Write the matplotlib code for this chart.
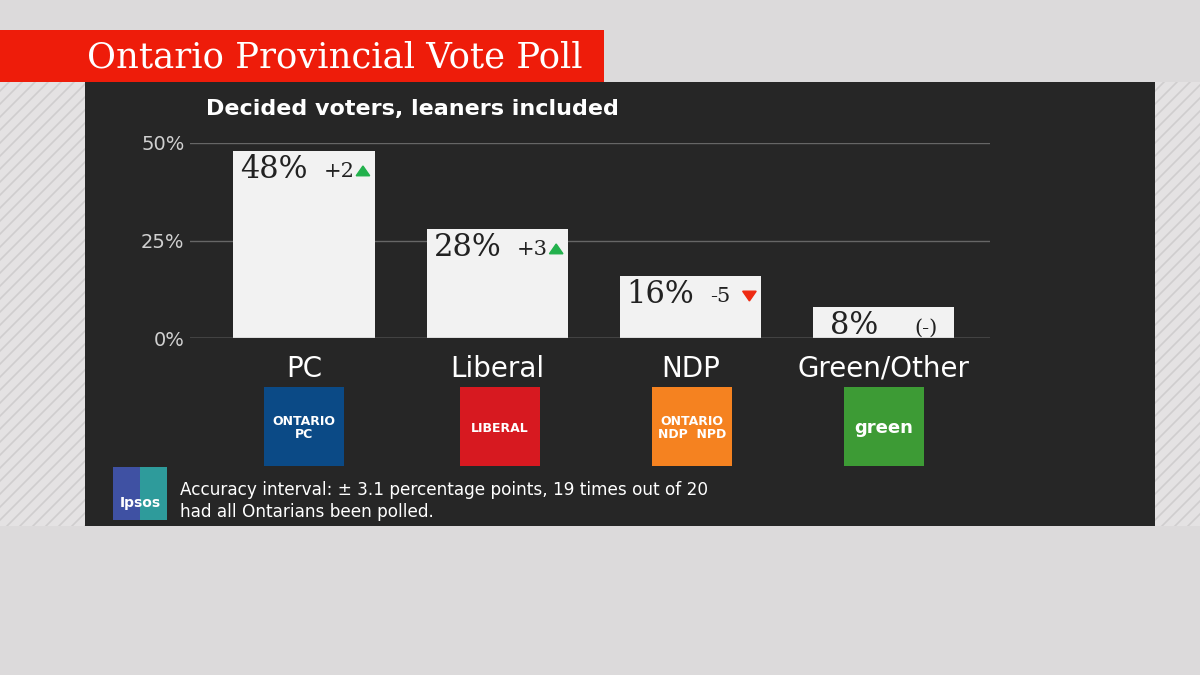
import matplotlib
matplotlib.use("Agg")
import matplotlib.pyplot as plt
from matplotlib.patches import Rectangle, Polygon

categories = ["PC", "Liberal", "NDP", "Green/Other"]
values = [48, 28, 16, 8]
changes = ["+2", "+3", "-5", "(-)"]
directions = ["up", "up", "down", None]
logo_colors = ["#0b4a86", "#d71920", "#f58220", "#3d9b35"]
logo_texts = ["ONTARIO\nPC", "LIBERAL", "ONTARIO\nNDP  NPD", "green"]
yticks = [0, 25, 50]

W, H = 1200, 675
fig = plt.figure(figsize=(12, 6.75), dpi=100)
fig.patch.set_facecolor("#dcdadb")

def box(x0, y0, x1, y1):
    return [x0 / W, 1 - y1 / H, (x1 - x0) / W, (y1 - y0) / H]

bg = fig.add_axes([0, 0, 1, 1])
bg.set_xlim(0, W); bg.set_ylim(H, 0); bg.axis("off")
for xa, xb in [(0, 85), (1155, 1200)]:
    clip = Rectangle((xa, 82), xb - xa, 444, transform=bg.transData)
    bg.add_patch(Rectangle((xa, 82), xb - xa, 444, facecolor="#e4e2e3", edgecolor="none"))
    for k in range(-500, 500, 13):
        ln, = bg.plot([xa + k, xa + k + 444], [526, 82], color="#cfcdce", lw=1.2)
        ln.set_clip_path(clip)
bg.add_patch(Rectangle((85, 82), 1070, 444, facecolor="#262626", edgecolor="none"))
bg.add_patch(Rectangle((0, 30), 604, 52, facecolor="#ee1c0a", edgecolor="none"))
bg.text(87, 57, "Ontario Provincial Vote Poll", color="white", fontsize=25.5,
        family="DejaVu Serif", va="center", ha="left")
bg.text(206, 109, "Decided voters, leaners included", color="white", fontsize=16,
        fontweight="bold", va="center", ha="left")

ax = fig.add_axes(box(190, 143, 990, 338))
ax.set_facecolor("none")
xs = list(range(len(categories)))
ax.bar(xs, values, width=0.73, color="#f2f2f2", zorder=3)
ax.set_xlim(-0.59, 3.55)
ax.set_ylim(0, 50)
ax.set_yticks(yticks)
ax.set_yticklabels([f"{t}%" for t in yticks], color="#d0d0d0", fontsize=14)
ax.yaxis.grid(True, color="#666666", lw=1)
ax.set_axisbelow(True)
ax.tick_params(axis="y", length=0, pad=4)
ax.set_xticks(xs)
ax.set_xticklabels(categories, color="white", fontsize=20)
ax.tick_params(axis="x", length=0, pad=12)
for s in ax.spines.values():
    s.set_visible(False)
ax.axhline(0, color="#888888", lw=1, zorder=4)

for i, (v, c, d) in enumerate(zip(values, changes, directions)):
    x1 = i - 0.33 if d else i - 0.28
    x2 = i + 0.10 if d else i + 0.16
    ax.text(x1, v - 4.8, f"{v}%", fontsize=22, family="DejaVu Serif",
            va="center", ha="left", zorder=5, color="#222222")
    ax.text(x2, v - 5.4, c, fontsize=15, family="DejaVu Serif",
            va="center", ha="left", zorder=5, color="#222222")
    if d:
        mx, my = i + 0.305, v - 5.2
        if d == "up":
            pts = [(mx - 0.035, my - 1.2), (mx + 0.035, my - 1.2), (mx, my + 1.3)]
            col = "#22b14c"
        else:
            pts = [(mx - 0.035, my + 1.2), (mx + 0.035, my + 1.2), (mx, my - 1.3)]
            col = "#ee2a12"
        ax.add_patch(Polygon(pts, closed=True, color=col, zorder=5))

centers = [304, 500, 692, 884]
for cx, col, t in zip(centers, logo_colors, logo_texts):
    bg.add_patch(Rectangle((cx - 40, 387), 80, 79, facecolor=col, edgecolor="none"))
    bg.text(cx, 428, t, color="white", fontsize=9 if t != "green" else 13,
            fontweight="bold", ha="center", va="center", linespacing=1.0)

bg.add_patch(Rectangle((113, 467), 54, 53, facecolor="#2e9b9b", edgecolor="none"))
bg.add_patch(Rectangle((113, 467), 27, 53, facecolor="#3f51a3", edgecolor="none"))
bg.text(140, 503, "Ipsos", color="white", fontsize=10, fontweight="bold", ha="center", va="center")
bg.text(180, 490, "Accuracy interval: ± 3.1 percentage points, 19 times out of 20",
        color="white", fontsize=12.2, va="center", ha="left")
bg.text(180, 512, "had all Ontarians been polled.", color="white", fontsize=12.2,
        va="center", ha="left")

fig.savefig("out.png", dpi=100, facecolor=fig.get_facecolor())
